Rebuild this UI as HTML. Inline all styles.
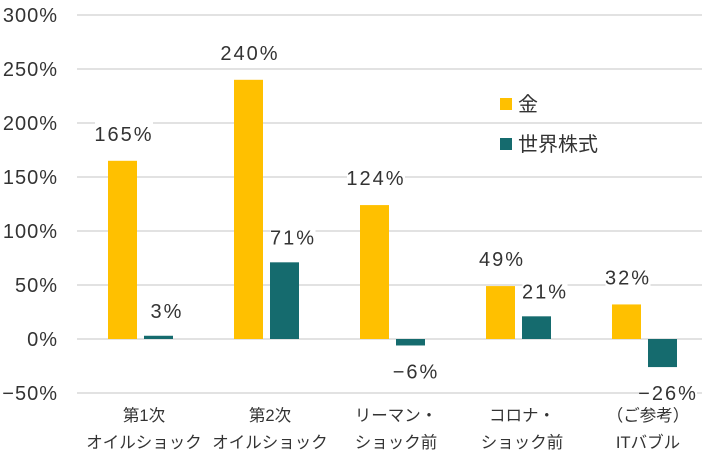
<!DOCTYPE html>
<html><head><meta charset="utf-8"><style>
body{margin:0;background:#fff}
svg{display:block;font-family:"Liberation Sans","Noto Sans CJK JP",sans-serif}
</style></head><body>
<svg id="c" width="711" height="466"></svg>
<script>
const categories=[["第1次","オイルショック"],["第2次","オイルショック"],["リーマン・","ショック前"],["コロナ・","ショック前"],["（ご参考）","ITバブル"]];
const goldValues=[165,240,124,49,32];
const stockValues=[3,71,-6,21,-26];
const ticks=[300,250,200,150,100,50,0,-50];
const NS="http://www.w3.org/2000/svg";
const svg=document.getElementById('c');
const y=v=>339-v*54/50;
const x0=78,cw=126;
const cx=i=>x0+cw*i+cw/2;
const fmt=v=>(v<0?'−':'')+Math.abs(v)+'%';
function el(t,a,p){const e=document.createElementNS(NS,t);for(const k in a)e.setAttribute(k,a[k]);(p||svg).appendChild(e);return e;}
ticks.forEach(t=>{
 const l=el('line',{x1:77,x2:702,y1:y(t),y2:y(t),stroke:'#d9d9d9','stroke-width':1.5});
 
 
 const tx=el('text',{x:58,y:y(t)+7,'text-anchor':'end','font-size':20,fill:'#333','letter-spacing':1});
 tx.textContent=fmt(t);
 
 
});
function label(txt,xc,yc){
 const w=txt.length*13+6;
 const r=el('rect',{x:xc-w/2,y:yc-12,width:w,height:24,fill:'#fff'});
 
 
 const t=el('text',{x:xc,y:yc+7,'text-anchor':'middle','font-size':20,fill:'#333','letter-spacing':2});
 t.textContent=txt;
 
 
}
categories.forEach((c,i)=>{
 const g=goldValues[i],s=stockValues[i];
 const gx=cx(i)-33,sx=cx(i)+3;
 const b1=el('rect',{x:gx,y:Math.min(y(g),y(0)),width:29,height:Math.abs(y(g)-y(0)),fill:'#FFC000'});
 
 
 const b2=el('rect',{x:sx,y:Math.min(y(s),y(0)),width:29,height:Math.abs(y(s)-y(0)),fill:'#156B6E'});
 
 
 label(fmt(g),gx+16,y(g)-27);
 label(fmt(s),sx+15+(s>0?8:5),s>=0?y(s)-25:y(s)+26);
 c.forEach((line,j)=>{
  const t=el('text',{x:cx(i)+3,y:421+j*27,'text-anchor':'middle','font-size':16.5,fill:'#333'});
  t.textContent=line;
  
  
 });
});
[['金','#FFC000',104],['世界株式','#156B6E',144]].forEach(([n,col,yy])=>{
 const r=el('rect',{x:500,y:yy-6,width:12,height:12,fill:col});
 
 
 const t=el('text',{x:518,y:yy+7,'font-size':20,fill:'#333'});
 t.textContent=n;
 
 
});
</script>
</body></html>
